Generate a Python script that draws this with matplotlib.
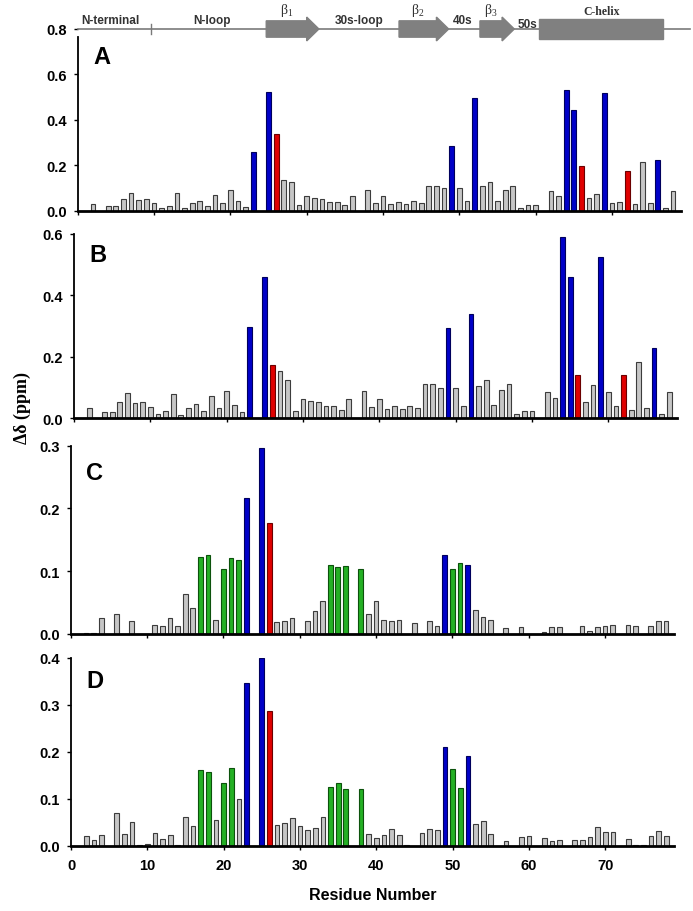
import matplotlib
matplotlib.use("Agg")
import matplotlib.pyplot as plt
from matplotlib.patches import FancyArrow, Rectangle
import numpy as np

# residue numbers 1..78, None = no data (e.g. proline / unassigned)
residues = np.arange(1, 79)

shift_a = [None, 0.031, None, 0.019, 0.019, 0.050, 0.079, 0.047, 0.051, 0.035,
           0.013, 0.022, 0.079, 0.012, 0.032, 0.044, 0.021, 0.070, 0.032, 0.089,
           0.043, 0.018, 0.258, None, 0.524, 0.336, 0.134, 0.125, 0.025, 0.063,
           0.056, 0.053, 0.038, 0.038, 0.026, 0.063, None, 0.089, 0.034, 0.063,
           0.029, 0.038, 0.029, 0.041, 0.032, 0.109, 0.109, 0.100, 0.286, 0.101,
           0.041, 0.495, 0.107, 0.125, 0.043, 0.091, 0.110, 0.012, 0.023, 0.023,
           None, 0.088, 0.066, 0.530, 0.443, 0.195, 0.054, 0.075, 0.520, 0.035,
           0.037, 0.173, 0.029, 0.213, 0.034, 0.222, 0.013, 0.087]

shift_b = [None, 0.034, None, 0.022, 0.022, 0.053, 0.081, 0.049, 0.053, 0.036,
           0.015, 0.024, 0.079, 0.012, 0.033, 0.045, 0.023, 0.071, 0.034, 0.088,
           0.042, 0.020, 0.298, None, 0.460, 0.173, 0.154, 0.126, 0.024, 0.062,
           0.055, 0.053, 0.040, 0.040, 0.026, 0.062, None, 0.089, 0.036, 0.062,
           0.029, 0.039, 0.029, 0.041, 0.034, 0.110, 0.110, 0.100, 0.294, 0.100,
           0.041, 0.340, 0.106, 0.125, 0.043, 0.093, 0.111, 0.015, 0.025, 0.025,
           None, 0.087, 0.067, 0.590, 0.459, 0.142, 0.054, 0.107, 0.524, 0.086,
           0.040, 0.142, 0.028, 0.182, 0.034, 0.229, 0.015, 0.086]

shift_c = [None, 0.002, 0.002, 0.026, None, 0.032, None, 0.020, None, None,
           0.014, 0.012, 0.025, 0.012, 0.063, 0.041, 0.123, 0.126, 0.023, 0.104,
           0.121, 0.118, 0.216, None, 0.297, 0.177, 0.019, 0.020, 0.026, None,
           0.021, 0.036, 0.052, 0.110, 0.107, 0.109, None, 0.103, 0.032, 0.052,
           0.022, 0.020, 0.023, None, 0.017, None, 0.020, 0.013, 0.126, 0.104,
           0.113, 0.110, 0.039, 0.027, 0.022, None, 0.010, None, 0.011, None,
           None, 0.003, 0.011, 0.011, None, None, 0.012, 0.004, 0.011, 0.013,
           0.014, None, 0.014, 0.013, None, 0.013, 0.020, 0.020]

shift_d = [None, 0.021, 0.013, 0.023, None, 0.069, 0.024, 0.051, 0.002, 0.004,
           0.027, 0.014, 0.022, 0.002, 0.062, 0.043, 0.161, 0.156, 0.054, 0.133,
           0.166, 0.100, 0.347, None, 0.400, 0.288, 0.044, 0.048, 0.058, 0.041,
           0.034, 0.038, 0.061, 0.126, 0.133, 0.121, None, 0.121, 0.025, 0.016,
           0.023, 0.035, 0.023, 0.002, None, 0.026, 0.035, 0.033, 0.211, 0.163,
           0.124, 0.192, 0.047, 0.053, 0.024, None, 0.010, None, 0.019, 0.020,
           None, 0.016, 0.011, 0.012, None, 0.013, 0.013, 0.018, 0.039, 0.029,
           0.029, None, 0.015, 0.002, 0.002, 0.021, 0.031, 0.021]

blue_ab = [23, 25, 49, 52, 64, 65, 69, 76]
red_ab = [26, 66, 72]
blue_cd = [23, 25, 49, 52]
red_cd = [26]
green_c = [17, 18, 20, 21, 22, 34, 35, 36, 38, 50, 51]
green_d = [17, 18, 20, 21, 34, 35, 36, 38, 50, 51]

panel_letters = ["A", "B", "C", "D"]
y_max = [0.8, 0.6, 0.3, 0.4]
y_step = [0.2, 0.2, 0.1, 0.1]

# secondary structure (residue units)
strand_labels = [r"$\mathregular{\beta_1}$", r"$\mathregular{\beta_2}$", r"$\mathregular{\beta_3}$"]
strand_start = [24.7, 42.1, 52.7]
strand_end = [31.6, 48.6, 57.2]
helix_start, helix_end = 60.5, 76.7
region_labels = ["N-terminal", "N-loop", "30s-loop", "40s", "50s"]
region_pos = [4.3, 17.6, 36.9, 50.5, 58.9]
nloop_mark = 9.6

GRAY, GRAY_E = "#c6c6c6", "#3c3c3c"
BLUE, BLUE_E = "#0000c8", "#00005c"
RED, RED_E = "#e00000", "#6c0000"
GREEN, GREEN_E = "#24b024", "#0c520c"

W, H = 693, 912
# axes boxes in pixels: left, top, bottom
boxes = [(77.7, 30.0, 211.7), (74.0, 234.8, 419.3),
         (70.7, 446.7, 635.0), (71.0, 659.0, 846.7)]
ax_width = 603
letter_y = [0.846, 0.89, 0.86, 0.879]

plt.rcParams["font.family"] = ["Liberation Sans", "DejaVu Sans"]
plt.rcParams["font.weight"] = "bold"

fig = plt.figure(figsize=(W / 100, H / 100), dpi=100)

data = [shift_a, shift_b, shift_c, shift_d]
blues = [blue_ab, blue_ab, blue_cd, blue_cd]
reds = [red_ab, red_ab, red_cd, red_cd]
greens = [[], [], green_c, green_d]

axes = []
for i in range(4):
    left, top, bottom = boxes[i]
    ax = fig.add_axes([left / W, 1 - bottom / H, ax_width / W, (bottom - top) / H])
    axes.append(ax)

    xs, ys, fc, ec = [], [], [], []
    for r, v in zip(residues, data[i]):
        if v is None:
            continue
        xs.append(r)
        ys.append(v)
        if r in blues[i]:
            fc.append(BLUE); ec.append(BLUE_E)
        elif r in reds[i]:
            fc.append(RED); ec.append(RED_E)
        elif r in greens[i]:
            fc.append(GREEN); ec.append(GREEN_E)
        else:
            fc.append(GRAY); ec.append(GRAY_E)
    ax.bar(xs, ys, width=0.62, color=fc, edgecolor=ec, linewidth=0.8, zorder=2)

    ax.set_xlim(0, 79)
    ax.set_ylim(0, y_max[i])
    ax.set_yticks(np.arange(0, y_max[i] + 1e-9, y_step[i]))
    ax.yaxis.set_major_formatter(matplotlib.ticker.FormatStrFormatter("%.1f"))
    ax.set_xticks(np.arange(0, 80, 10))
    for s in ["top", "right"]:
        ax.spines[s].set_visible(False)
    ax.spines["left"].set_linewidth(1.3)
    ax.spines["bottom"].set_linewidth(2.0)
    ax.tick_params(axis="y", direction="out", length=3, width=1, pad=5, labelsize=10.5)
    ax.tick_params(axis="x", direction="out", length=3, width=1, pad=6, labelsize=10.5)
    if i < 3:
        ax.tick_params(axis="x", labelbottom=False)
    ax.text(0.026, letter_y[i], panel_letters[i], transform=ax.transAxes, fontsize=17,
            fontweight="bold", va="center", ha="left")

axes[3].set_xlabel("Residue Number", fontsize=11.5, fontweight="bold", labelpad=11)
axes[0].spines["left"].set_bounds(0, 0.765)

fig.text(22 / W, 1 - 408 / H, "Δδ (ppm)", rotation=90, ha="center", va="center",
         fontsize=13, fontweight="bold", family=["Liberation Serif", "DejaVu Serif"])

# secondary structure topology drawn along the top of panel A
ax = axes[0]
ytop = 0.8
ax.plot([0, 80.2], [ytop, ytop], color="#7a7a7a", lw=1.2, clip_on=False, zorder=3)
ax.plot([nloop_mark, nloop_mark], [ytop - 0.02, ytop + 0.02], color="#7a7a7a", lw=1,
        clip_on=False, zorder=3)
for s, e, lab in zip(strand_start, strand_end, strand_labels):
    arr = FancyArrow(s, ytop, e - s, 0, width=0.072, head_width=0.105, head_length=1.6,
                     length_includes_head=True, color="#808080", clip_on=False, zorder=4)
    ax.add_patch(arr)
    ax.text((s + e - 1.6) / 2, ytop + 0.085, lab, ha="center", va="center", fontsize=10,
            family=["Liberation Serif", "DejaVu Serif"], fontweight="normal", color="#333333")
ax.add_patch(Rectangle((helix_start, ytop - 0.046), helix_end - helix_start, 0.092,
                       color="#808080", clip_on=False, zorder=4))
ax.text((helix_start + helix_end) / 2, ytop + 0.078, "C-helix", ha="center", va="center",
        fontsize=8.5, family=["Liberation Serif", "DejaVu Serif"], color="#333333")
for lab, x in zip(region_labels, region_pos):
    yy = ytop + 0.022 if lab == "50s" else ytop + 0.04
    ax.text(x, yy, lab, ha="center", va="center", fontsize=8.5, fontweight="bold",
            color="#333333")

fig.savefig("out.png", dpi=100)
